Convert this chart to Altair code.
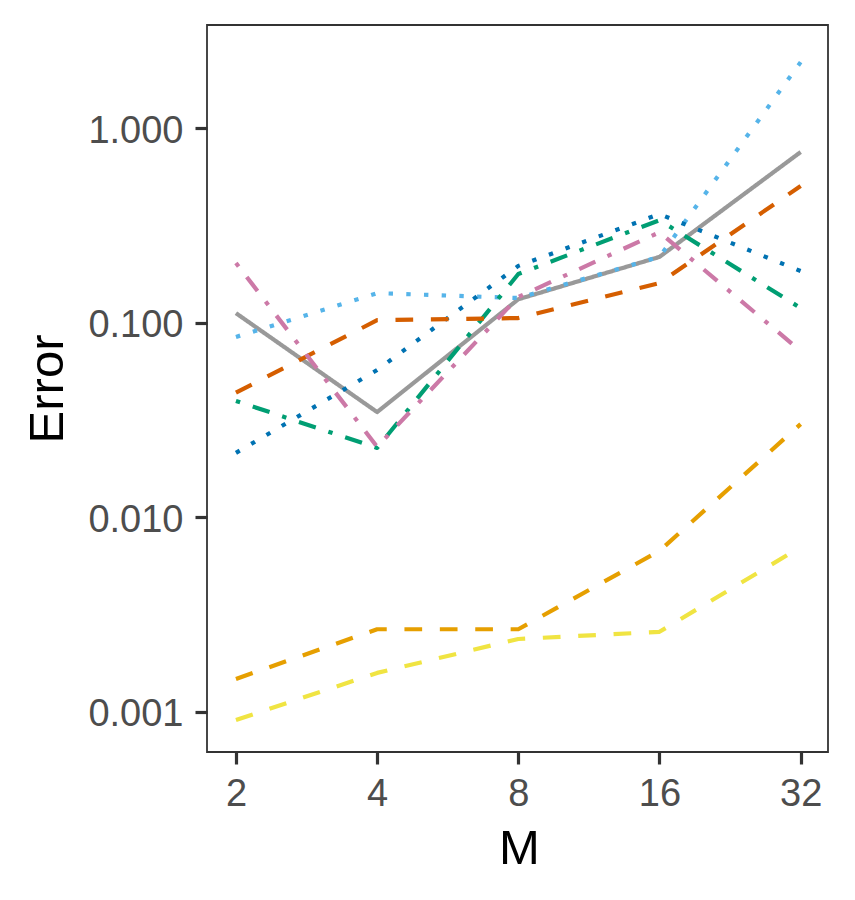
import altair as alt
import pandas as pd

M = [2, 4, 8, 16, 32]

series_names = ["grey", "orange", "skyblue", "green", "yellow", "blue", "vermilion", "pink"]
colors = ["#999999", "#E69F00", "#56B4E9", "#009E73", "#F0E442", "#0072B2", "#D55E00", "#CC79A7"]
dashes = [[1, 0], [17.7, 17.7], [4.4, 13.3], [4.4, 13.3, 17.7, 13.3],
          [17.7, 17.7], [4.4, 13.3], [17.7, 17.7], [4.4, 13.3, 17.7, 13.3]]

grey = [0.112, 0.0347, 0.132, 0.218, 0.755]
orange = [0.00147, 0.00265, 0.00265, 0.0067, 0.0301]
skyblue = [0.0845, 0.142, 0.134, 0.218, 2.19]
green = [0.0396, 0.0227, 0.178, 0.337, 0.119]
yellow = [0.000904, 0.00158, 0.00236, 0.00257, 0.00702]
blue = [0.0214, 0.0571, 0.196, 0.362, 0.1845]
vermilion = [0.0437, 0.103, 0.1057, 0.160, 0.505]
pink = [0.203, 0.0230, 0.1356, 0.292, 0.0715]

values = [grey, orange, skyblue, green, yellow, blue, vermilion, pink]

rows = []
for name, vals in zip(series_names, values):
    for m, v in zip(M, vals):
        rows.append({"series": name, "M": m, "Error": v})
df = pd.DataFrame(rows)

y_ticks = [0.001, 0.01, 0.1, 1.0]

chart = alt.Chart(df).mark_line(strokeCap="butt", strokeJoin="round").encode(
    x=alt.X("M:Q",
            scale=alt.Scale(type="log", base=2, domain=[1.735, 36.6], nice=False, zero=False),
            axis=alt.Axis(values=M, format="d", title="M", titleX=312, titleY=111,
                          titleBaseline="alphabetic", labelPadding=11)),
    y=alt.Y("Error:Q",
            scale=alt.Scale(type="log", domain=[0.000619, 3.40], nice=False, zero=False),
            axis=alt.Axis(values=y_ticks, format=".3f", title="Error", titleX=-145, titleY=363.5,
                          titleBaseline="alphabetic", labelPadding=12, labelOffset=3)),
    color=alt.Color("series:N", scale=alt.Scale(domain=series_names, range=colors), legend=None),
    strokeDash=alt.StrokeDash("series:N", scale=alt.Scale(domain=series_names, range=dashes), legend=None),
    strokeWidth=alt.value(4.2),
    detail="series:N",
).properties(
    width=621,
    height=727,
    background="white",
    autosize=alt.AutoSizeParams(type="none"),
    padding={"left": 199, "top": 17, "right": 15, "bottom": 140},
).configure_view(
    stroke="#333333", strokeWidth=1.8, fill="white"
).configure_axis(
    grid=False,
    domain=False,
    labelFont="Liberation Sans",
    labelFontSize=38,
    labelColor="#4D4D4D",
    tickColor="#333333",
    tickSize=12,
    tickWidth=3.2,
    titleFont="Liberation Sans",
    titleFontSize=49,
    titleFontWeight="normal",
    titleColor="#000000",
)

chart.save("out.html", embed_options={"renderer": "svg", "actions": False})
